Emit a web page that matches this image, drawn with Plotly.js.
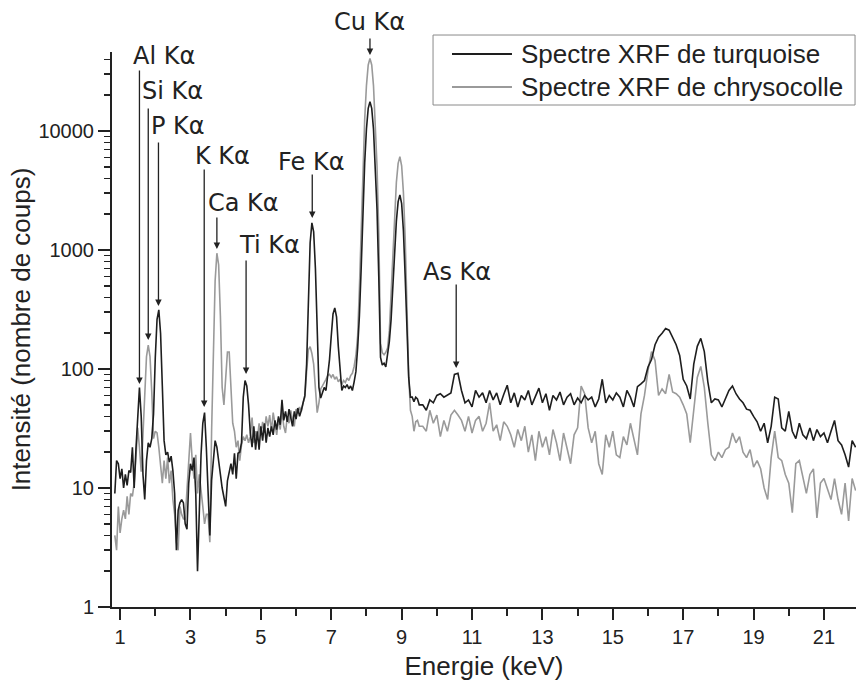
<!DOCTYPE html>
<html><head><meta charset="utf-8">
<script src="https://cdn.plot.ly/plotly-3.0.1.min.js"></script>
<style>html,body{margin:0;padding:0;background:#fff}#chart{width:856px;height:681px}</style>
</head><body><div id="chart"></div>
<script>
// ---------- DATA ----------
const energyLow = [
  0.85,0.9,0.95,
  1,1.05,1.1,1.15,1.2,1.25,1.3,1.35,1.4,1.45,1.5,1.55,1.6,1.65,1.7,1.75,1.8,1.85,1.9,1.95,
  2,2.05,2.1,2.15,2.2,2.25,2.3,2.35,2.4,2.45,2.5,2.55,2.6,2.65,2.7,2.75,2.8,2.85,2.9,2.95,
  3,3.05,3.1,3.15,3.2,3.25,3.3,3.35,3.4,3.45,3.5,3.55,3.6,3.65,3.7,3.75,3.8,3.85,3.9,3.95,
  4,4.05,4.1,4.15,4.2,4.25,4.3,4.35,4.4,4.45,4.5,4.55,4.6,4.65,4.7,4.75,4.8,4.85,4.9,4.95,
  5,5.05,5.1,5.15,5.2,5.25,5.3,5.35,5.4,5.45,5.5,5.55,5.6,5.65,5.7,5.75,5.8,5.85,5.9,5.95,
  6,6.05,6.1,6.15,6.2,6.25,6.3,6.35,6.4,6.45,6.5,6.55,6.6,6.65,6.7,6.75,6.8,6.85,6.9,6.95,
  7,7.05,7.1,7.15,7.2,7.25,7.3,7.35,7.4,7.45,7.5,7.55,7.6,7.65,7.7,7.75,7.8,7.85,7.9,7.95,
  8,8.05,8.1,8.15,8.2,8.25,8.3,8.35,8.4,8.45,8.5,8.55,8.6,8.65,8.7,8.75,8.8,8.85,8.9,8.95,
  9,9.05,9.1,9.15,9.2,9.25,9.3,9.35,9.4,9.45,9.5
];
const energyHigh = [
  9.6,9.7,9.8,9.9,
  10,10.1,10.2,10.3,10.4,10.5,10.6,10.7,10.8,10.9,
  11,11.1,11.2,11.3,11.4,11.5,11.6,11.7,11.8,11.9,
  12,12.1,12.2,12.3,12.4,12.5,12.6,12.7,12.8,12.9,
  13,13.1,13.2,13.3,13.4,13.5,13.6,13.7,13.8,13.9,
  14,14.1,14.2,14.3,14.4,14.5,14.6,14.7,14.8,14.9,
  15,15.1,15.2,15.3,15.4,15.5,15.6,15.7,15.8,15.9,
  16,16.1,16.2,16.3,16.4,16.5,16.6,16.7,16.8,16.9,
  17,17.1,17.2,17.3,17.4,17.5,17.6,17.7,17.8,17.9,
  18,18.1,18.2,18.3,18.4,18.5,18.6,18.7,18.8,18.9,
  19,19.1,19.2,19.3,19.4,19.5,19.6,19.7,19.8,19.9,
  20,20.1,20.2,20.3,20.4,20.5,20.6,20.7,20.8,20.9,
  21,21.1,21.2,21.3,21.4,21.5,21.6,21.7,21.8,21.9
];
const turquoiseLow = [
  9,17,16,
  12,14.5,10,13,10.5,14,13.5,22,10,21,45,70,40,13,8,17,24,22,26,42,
  125,262,314,200,72,25,19,20,16.5,18.5,14,9,3,6.5,7.5,8,7.5,5,4.5,11,
  16,14,18,9,2,8,19,35,43,22,8,4,11.6,17,25,22,16,13,10,8,
  7,11.5,14,16,13,19.6,12,19.6,20,24,58,80,72,50,29,22,33,21,30,21,
  33,25,35,24,32,27,33,28,37,31,40,34,55,37,44,36,46,38,33,44,
  38,47,40,45,52,60,110,460,1150,1690,1420,700,200,70,57,62,70,66,85,120,
  190,290,326,275,155,92,66,72,70,74,68,72,66,78,95,150,280,700,2200,5400,
  10400,15500,17600,15500,10400,5400,2200,600,125,108,112,104,135,170,260,500,1000,1750,2550,2900,
  2450,1450,600,180,85,58,58,53,58,56,50
];
const turquoiseHigh = [
  50,45,55,52,
  60,62,58,60,63,90,92,66,52,55,
  48,66,58,63,52,66,55,63,50,61,
  73,52,63,48,60,55,66,50,58,69,
  52,62,45,60,55,64,50,58,62,50,
  57,52,60,55,58,48,56,82,52,60,
  55,63,58,48,66,58,48,71,75,80,
  104,120,160,185,200,219,212,187,160,130,
  82,72,56,110,155,181,140,78,52,56,
  55,48,57,66,72,62,56,52,46,45,
  40,36,30,35,24,33,58,56,32,30,
  44,30,26,35,28,26,32,25,31,27,
  29,24,30,37,25,23,19,15,25,22
];
const chrysocolleLow = [
  4,3,7,
  4.2,5.5,6.5,5.5,8.5,6,9,8.5,11,18,32,22,13.7,28,64,127,159,127,64,26,
  30,29,22,16,11,17,12,18,11,14,8,6,3.5,3,7,6,5.5,5.5,9,18,
  29,17,12,19,9,13,10,7,5,6,6,3.5,30,150,550,940,750,280,70,50,
  95,139,139,70,35,30,22,25,17,23,27,25,28,24,27,39,24,30,26,35,
  28,36,29,40,33,41,30,43,34,28,38,31,45,33,29,40,35,45,37,33,
  46,42,48,44,52,58,95,145,154,135,110,62,43,52,68,72,76,82,88,90,
  85,90,82,86,78,82,74,80,77,84,80,88,92,105,130,190,480,1550,5100,12500,
  24100,35900,40800,35900,24100,12500,5100,1400,165,137,132,138,150,210,420,950,2050,3700,5350,6080,
  5100,3050,1280,380,90,45,40,30,36,37,33
];
const chrysocolleHigh = [
  33,30,45,35,
  41,27,37,30,41,45,41,37,30,40,
  29,37,40,30,35,52,30,34,25,36,
  33,28,22,31,25,33,20,28,17,30,
  22,27,19,31,24,17,29,22,16,28,
  32,72,62,32,24,30,16,13,28,22,
  30,19,18,27,23,35,26,19,42,60,
  97,140,118,60,68,62,90,64,62,58,
  50,42,24,48,85,105,70,35,19,17,
  20,18,21,22,29,24,27,20,18,21,
  15,17,14.5,10,8,18,30,18,17,13,
  11,6.2,16,17,12,9,13,14.5,5.6,11,
  12,10,8,12,8,6,11,5.3,12,9.5
];
const seriesNames = ["Spectre XRF de turquoise", "Spectre XRF de chrysocolle"];
const peakLabels = ["Al Kα","Si Kα","P Kα","K Kα","Ca Kα","Ti Kα","Fe Kα","Cu Kα","As Kα"];
const peakEnergies = [1.55, 1.80, 2.09, 3.39, 3.75, 4.58, 6.46, 8.10, 10.55];
const xTickVals = [1,3,5,7,9,11,13,15,17,19,21];
const xMinorTickVals = [2,4,6,8,10,12,14,16,18,20];
const yTickVals = [1,10,100,1000,10000];
const yTickText = ["1","10","100","1000","10000"];
const yMinorTickVals = [2,3,4,5,6,7,8,9,20,30,40,50,60,70,80,90,200,300,400,500,600,700,800,900,
  2000,3000,4000,5000,6000,7000,8000,9000,20000,30000,40000];

// ---------- LAYOUT / PLACEMENT (positions, not data) ----------
const labelCenterE = [2.25, 2.477, 2.648, 3.898, 4.494, 5.233, 6.426, 8.074, 10.574];
const labelPaperY  = [0.9928, 0.9297, 0.8667, 0.8126, 0.7279, 0.6523, 0.8018, 1.0541, 0.6036];
const arrowTipLog  = [1.874, 2.244, 2.529, 1.681, 3.008, 1.958, 3.269, 4.639, 2.008];
const arrowLenPx   = [315, 233, 165, 239, 33, 115, 45, 18, 85];

const FONT = "Liberation Sans, Arial, Helvetica, sans-serif";
const DARK = "#1e1e1e";
const GRAY = "#9a9a9a";

const energy = energyLow.concat(energyHigh);
const traces = [
  {x: energy, y: chrysocolleLow.concat(chrysocolleHigh), name: seriesNames[1], type: "scatter", mode: "lines",
   line: {color: GRAY, width: 1.6}, showlegend: false},
  {x: energy, y: turquoiseLow.concat(turquoiseHigh), name: seriesNames[0], type: "scatter", mode: "lines",
   line: {color: DARK, width: 1.6}, showlegend: false}
];

const annotations = [];
peakLabels.forEach((lab, i) => {
  annotations.push({x: labelCenterE[i], xref: "x", y: labelPaperY[i], yref: "paper", text: lab, showarrow: false,
    xanchor: "center", yanchor: "middle", font: {family: "DejaVu Sans, sans-serif", size: 24, color: "#222"}});
  annotations.push({x: peakEnergies[i], xref: "x", y: arrowTipLog[i], yref: "y", text: "", showarrow: true,
    ax: 0, ay: -arrowLenPx[i], arrowhead: 2, arrowsize: 1, arrowwidth: 1.3, arrowcolor: "#222", standoff: 0});
});
// custom legend texts
const legY = [0.9964, 0.9369];
seriesNames.forEach((n, i) => {
  annotations.push({x: 0.547, xref: "paper", y: legY[i], yref: "paper", text: n, showarrow: false,
    xanchor: "left", yanchor: "middle", font: {family: FONT, size: 26, color: "#222"}});
});
const shapes = [
  {type: "rect", xref: "paper", yref: "paper", x0: 0.4315, x1: 0.9987, y0: 0.9045, y1: 1.0306,
   line: {color: "#8a8a8a", width: 1}, fillcolor: "rgba(0,0,0,0)"},
  {type: "line", xref: "paper", yref: "paper", x0: 0.457, x1: 0.5376, y0: legY[0], y1: legY[0], line: {color: DARK, width: 2}},
  {type: "line", xref: "paper", yref: "paper", x0: 0.457, x1: 0.5376, y0: legY[1], y1: legY[1], line: {color: GRAY, width: 2}}
];

const layout = {
  width: 856, height: 681,
  margin: {l: 112, r: 0, t: 52, b: 74, pad: 0},
  paper_bgcolor: "#fff", plot_bgcolor: "#fff",
  font: {family: FONT, color: "#222"},
  showlegend: false,
  xaxis: {
    range: [0.77, 21.91], tickmode: "array", tickvals: xTickVals, ticks: "outside", ticklen: 11, tickwidth: 2,
    tickcolor: "#222", showline: true, linewidth: 2, linecolor: "#222", showgrid: false, zeroline: false,
    tickfont: {family: FONT, size: 20, color: "#222"}, automargin: false,
    minor: {tickmode: "array", tickvals: xMinorTickVals, ticks: "outside", ticklen: 7, tickwidth: 2, tickcolor: "#222", showgrid: false},
    title: {text: "Energie (keV)", font: {family: FONT, size: 26, color: "#222"}, standoff: 10}
  },
  yaxis: {
    type: "log", range: [0, 4.664], tickmode: "array", tickvals: yTickVals, ticktext: yTickText,
    ticks: "outside", ticklen: 12, tickwidth: 2, tickcolor: "#222", showline: true, linewidth: 2, linecolor: "#222",
    showgrid: false, zeroline: false, automargin: false,
    tickfont: {family: FONT, size: 20, color: "#222"},
    minor: {tickmode: "array", tickvals: yMinorTickVals, ticks: "outside", ticklen: 6, tickwidth: 1.5, tickcolor: "#222", showgrid: false},
    title: {text: "Intensité (nombre de coups)", font: {family: FONT, size: 26, color: "#222"}, standoff: 0}
  },
  annotations: annotations,
  shapes: shapes
};

Plotly.newPlot("chart", traces, layout, {displayModeBar: false, staticPlot: true});
</script>
</body></html>
